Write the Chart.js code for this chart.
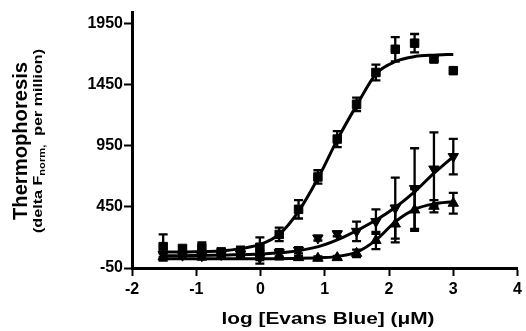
<!DOCTYPE html>
<html><head><meta charset="utf-8">
<script src="https://cdn.jsdelivr.net/npm/chart.js@4.4.1/dist/chart.umd.min.js"></script>
<style>html,body{margin:0;padding:0;background:#fff}#wrap{width:526px;height:331px;position:relative}canvas{display:block}</style>
</head><body><div id="wrap"><canvas id="c" width="526" height="331"></canvas></div>
<script>
// ---- data ----
const logConc = [-1.515,-1.214,-0.913,-0.612,-0.311,-0.010,0.291,0.592,0.893,1.194,1.495,1.796,2.097,2.398,2.699,3.000];
const sqMean = [125,110,115,80,85,120,225,430,695,1005,1290,1550,1740,1790,1660,1565];
const sqErr  = [100,15,45,30,40,80,55,75,55,65,55,65,100,75,15,0];
const dnMean = [60,55,50,60,65,35,75,95,195,230,250,330,440,600,760,862];
const dnErr  = [20,20,25,30,35,50,30,25,20,20,80,100,250,330,300,145];
const upMean = [40,45,40,45,50,45,50,35,30,35,70,175,310,425,455,480];
const upErr  = [30,20,20,20,20,30,30,15,15,15,30,70,150,170,50,85];

const sqFitX = [-1.515,-1.0,-0.5,0,0.3,0.6,0.9,1.2,1.5,1.8,2.1,2.4,2.7,3.0];
const sqFitY = [80,82,95,145,230,420,690,1005,1285,1540,1640,1680,1692,1698];
const dnFitX = [-1.515,-1.0,-0.5,0,0.4,0.9,1.3,1.8,2.1,2.4,2.7,3.0];
const dnFitY = [50,52,57,65,78,125,205,343,447,575,726,862];
const upFitX = [-1.515,-1.0,-0.5,0,0.5,1.0,1.2,1.5,1.8,2.1,2.4,2.7,3.0];
const upFitY = [25,25,25,26,28,35,45,80,180,330,430,475,493];

const xTicks = [-2,-1,0,1,2,3,4];
const yTicks = [-50,450,950,1450,1950];
const xTitle = 'log [Evans Blue] (\u03BCM)';
const yTitle = 'Thermophoresis';
const ySubParts = ['(delta F', 'norm,', '  per million)'];

const pts = (xs, ys) => xs.map((x, i) => ({x: x, y: ys[i]}));
const FONT = '"Liberation Sans", Arial, sans-serif';

const errorBars = {
  id: 'errorBars',
  beforeDatasetsDraw(chart) {
    const {ctx, scales: {x, y}} = chart;
    const sets = [[sqMean, sqErr], [dnMean, dnErr], [upMean, upErr]];
    ctx.save();
    ctx.strokeStyle = '#000';
    ctx.lineWidth = 2.3;
    sets.forEach(([m, e]) => {
      m.forEach((v, i) => {
        if (!e[i]) return;
        const px = x.getPixelForValue(logConc[i]);
        const yt = y.getPixelForValue(v + e[i]);
        const yb = y.getPixelForValue(v - e[i]);
        ctx.beginPath();
        ctx.moveTo(px, yt); ctx.lineTo(px, yb);
        ctx.moveTo(px - 4.5, yt); ctx.lineTo(px + 4.5, yt);
        ctx.moveTo(px - 4.5, yb); ctx.lineTo(px + 4.5, yb);
        ctx.stroke();
      });
    });
    ctx.restore();
  }
};

function drawStretched(ctx, parts, cx, cy, target, rot) {
  ctx.save();
  let W = 0;
  parts.forEach(p => { ctx.font = p.font; p.w = ctx.measureText(p.t).width; W += p.w; });
  ctx.translate(cx, cy);
  ctx.rotate(rot);
  ctx.scale(target / W, 1);
  ctx.fillStyle = '#000';
  ctx.textBaseline = 'alphabetic';
  ctx.textAlign = 'left';
  let xx = -W / 2;
  parts.forEach(p => { ctx.font = p.font; ctx.fillText(p.t, xx, p.dy); xx += p.w; });
  ctx.restore();
}

const titles = {
  id: 'titles',
  afterDraw(chart) {
    const ctx = chart.ctx;
    drawStretched(ctx, [{t: xTitle, font: 'bold 17px ' + FONT, dy: 6}], 328, 318, 213, 0);
    drawStretched(ctx, [{t: yTitle, font: 'bold 20px ' + FONT, dy: 7}], 20, 141, 158, -Math.PI / 2);
    drawStretched(ctx, [
      {t: ySubParts[0], font: 'bold 13px ' + FONT, dy: 4.5},
      {t: ySubParts[1], font: 'bold 9px ' + FONT, dy: 7.5},
      {t: ySubParts[2], font: 'bold 13px ' + FONT, dy: 4.5}
    ], 37, 141, 184, -Math.PI / 2);
  }
};

const lineDs = (data) => ({
  type: 'line', data: data, borderColor: '#000', borderWidth: 3,
  pointRadius: 0, fill: false, cubicInterpolationMode: 'monotone'
});
const markDs = (data, style, rot, r) => ({
  type: 'scatter', data: data, pointStyle: style, rotation: rot,
  pointRadius: r, backgroundColor: '#000', borderColor: '#000', borderWidth: 1
});

new Chart(document.getElementById('c'), {
  type: 'scatter',
  data: {
    datasets: [
      lineDs(pts(sqFitX, sqFitY)),
      lineDs(pts(dnFitX, dnFitY)),
      lineDs(pts(upFitX, upFitY)),
      markDs(pts(logConc, sqMean), 'rect', 0, 6),
      markDs(pts(logConc, dnMean), 'triangle', 180, 6),
      markDs(pts(logConc, upMean), 'triangle', 0, 6)
    ]
  },
  options: {
    responsive: false,
    animation: false,
    devicePixelRatio: 1,
    layout: {padding: {top: 12, right: 5, left: 0, bottom: 0}},
    plugins: {legend: {display: false}, tooltip: {enabled: false}},
    scales: {
      x: {
        type: 'linear', min: -2, max: 4,
        afterBuildTicks: s => { s.ticks = xTicks.map(v => ({value: v})); },
        afterFit: s => { s.height = 63; },
        ticks: {color: '#000', font: {family: FONT, size: 16, weight: 'bold'}, padding: 4, maxRotation: 0,
                callback: v => String(v)},
        grid: {display: true, drawOnChartArea: false, drawTicks: true, tickLength: 8, tickWidth: 2, tickColor: '#000'},
        border: {display: true, color: '#000', width: 3}
      },
      y: {
        type: 'linear', min: -50, max: 2045,
        afterBuildTicks: s => { s.ticks = yTicks.map(v => ({value: v})); },
        afterFit: s => { s.width = 132; },
        ticks: {color: '#000', font: {family: FONT, size: 16, weight: 'bold'}, padding: 1,
                callback: v => String(v)},
        grid: {display: true, drawOnChartArea: false, drawTicks: true, tickLength: 8, tickWidth: 2, tickColor: '#000'},
        border: {display: true, color: '#000', width: 3}
      }
    }
  },
  plugins: [errorBars, titles]
});
</script></body></html>
